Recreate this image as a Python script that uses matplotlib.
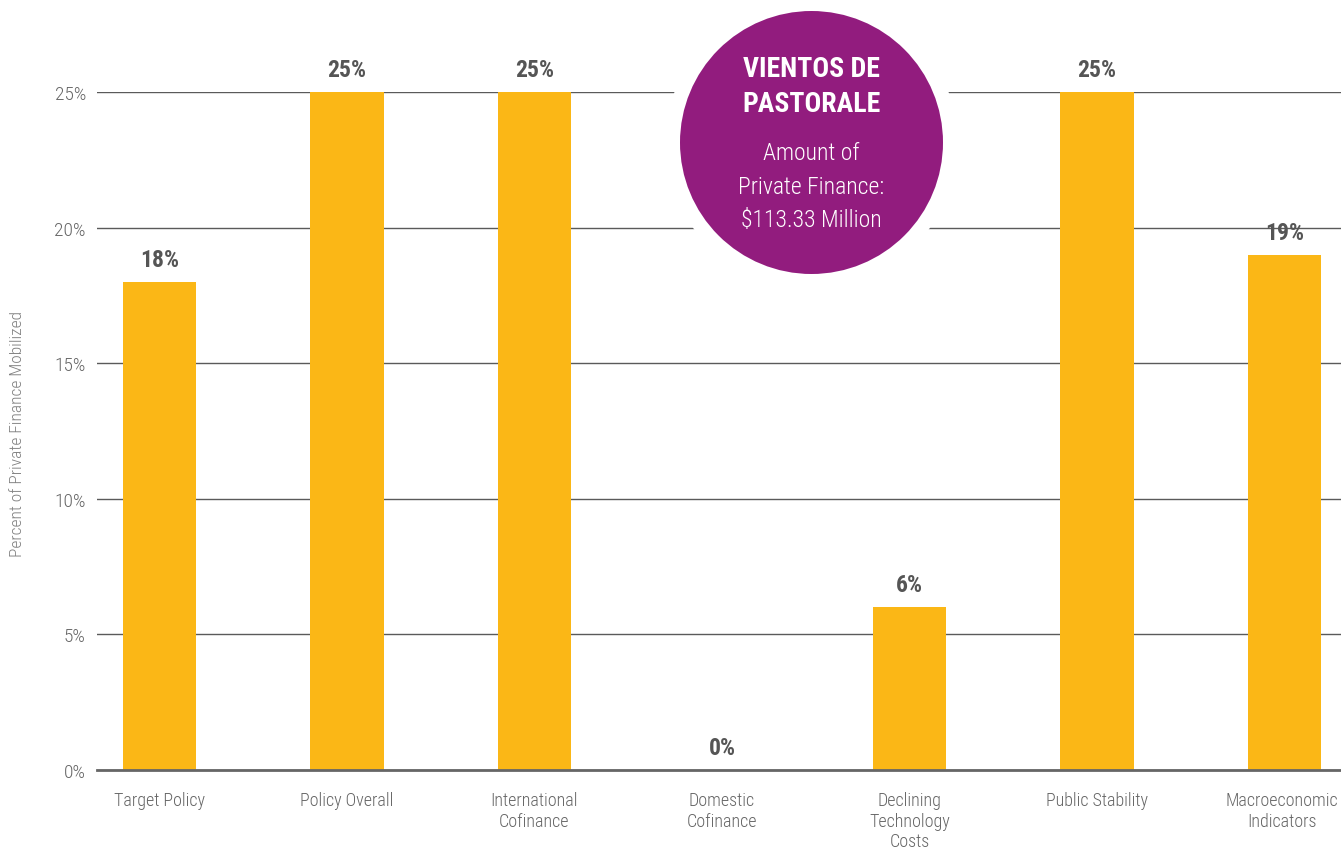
import matplotlib
matplotlib.use("Agg")
import matplotlib.pyplot as plt
import matplotlib.transforms as mtransforms
from matplotlib.patches import Circle
from matplotlib.ticker import FuncFormatter
from matplotlib import font_manager

categories = [
    "Target Policy",
    "Policy Overall",
    "International\nCofinance",
    "Domestic\nCofinance",
    "Declining\nTechnology\nCosts",
    "Public Stability",
    "Macroeconomic\nIndicators",
]
values = [18, 25, 25, 0, 6, 25, 19]
yticks = [0, 5, 10, 15, 20, 25]

badge_title = "VIENTOS DE\nPASTORALE"
badge_text = "Amount of\nPrivate Finance:\n$113.33 Million"
ylabel = "Percent of Private Finance Mobilized"

BAR = "#FBB716"
PURPLE = "#921C7E"
GRID = "#5a5a5a"
TEXT = "#666666"
VALUE = "#555555"

# Prefer a narrow face when one is installed, otherwise Roboto
available = {f.name for f in font_manager.fontManager.ttflist}
narrow = [n for n in ["Roboto Condensed", "Liberation Sans Narrow", "Open Sans Condensed"]
          if n in available]
families = narrow + [f for f in ["Roboto", "DejaVu Sans"] if f in available]
plt.rcParams["font.family"] = families
condensed = bool(narrow)

tick_size = 13 if condensed else 12
badge_title_size = 20 if condensed else 17.5
badge_body_size = 17 if condensed else 16

fig = plt.figure(figsize=(13.41, 8.53), dpi=100)
ax = fig.add_axes([97 / 1341, 1 - 771 / 853, 1 - 97 / 1341, (771 - 93) / 853])

x = list(range(len(categories)))
ax.bar(x, values, width=0.39, color=BAR, zorder=2)

ax.set_xlim(-0.333, 6.301)
ax.set_ylim(0, 25)
ax.set_yticks(yticks)
ax.yaxis.set_major_formatter(FuncFormatter(lambda v, p: f"{v:.0f}%"))
ax.set_xticks(x)
ax.set_xticklabels(categories, linespacing=1.2, fontweight="light")
ax.tick_params(axis="both", length=0, labelsize=tick_size, labelcolor=TEXT)
ax.tick_params(axis="x", pad=15)
ax.tick_params(axis="y", pad=8, labelsize=14)
for lbl in ax.get_yticklabels():
    lbl.set_fontweight("light")

# keep the last category label inside the canvas
fig.canvas.draw()
last = ax.get_xticklabels()[-1]
bb = last.get_window_extent()
overflow = bb.x1 - 1338
if overflow > 0:
    last.set_transform(last.get_transform() +
                       mtransforms.Affine2D().translate(-overflow, 0))

ax.yaxis.grid(True, color=GRID, linewidth=1.0, zorder=0)
ax.set_axisbelow(True)
for side in ["top", "right", "left"]:
    ax.spines[side].set_visible(False)
ax.spines["bottom"].set_color("#666666")
ax.spines["bottom"].set_linewidth(2)
ax.spines["bottom"].set_zorder(3)

for xi, v in zip(x, values):
    ax.annotate(f"{v}%", (xi, v), xytext=(0, 8), textcoords="offset points",
                ha="center", va="bottom", fontsize=17, fontweight="bold",
                color=VALUE, annotation_clip=False)

fig.text(18 / 1341, 1 - 434 / 853, ylabel, rotation=90, ha="center", va="center",
         fontsize=12.5, fontweight="light", color="#808080")

# Badge: a white halo that breaks the gridlines, then the purple disc
cx, cy = 8.115, (853 - 143.5) / 100
fig.add_artist(Circle((cx, cy), 1.46, transform=fig.dpi_scale_trans,
                      facecolor="white", edgecolor="none", zorder=5))
fig.add_artist(Circle((cx, cy), 1.315, transform=fig.dpi_scale_trans,
                      facecolor=PURPLE, edgecolor="none", zorder=6))
fig.text(cx / 13.41, 1 - 87 / 853, badge_title, ha="center", va="center",
         fontsize=badge_title_size, fontweight="bold", color="white",
         linespacing=1.4, zorder=7)
fig.text(cx / 13.41, 1 - 187 / 853, badge_text, ha="center", va="center",
         fontsize=badge_body_size, fontweight="light", color="white",
         linespacing=1.6, zorder=7)

fig.savefig("out.png", dpi=100)
